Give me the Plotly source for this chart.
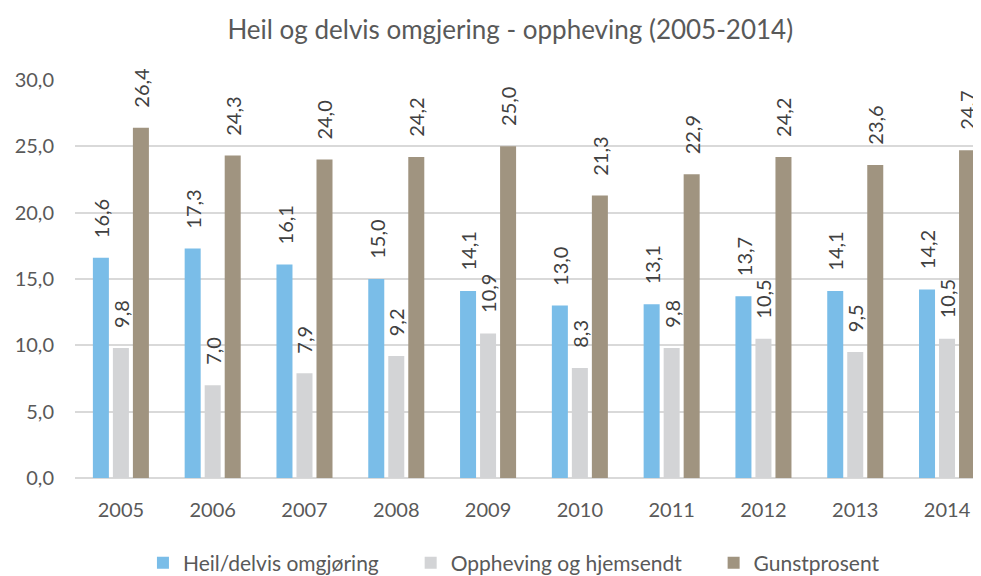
import plotly.graph_objects as go

years = ["2005", "2006", "2007", "2008", "2009", "2010", "2011", "2012", "2013", "2014"]
heil = [16.6, 17.3, 16.1, 15.0, 14.1, 13.0, 13.1, 13.7, 14.1, 14.2]
oppheving = [9.8, 7.0, 7.9, 9.2, 10.9, 8.3, 9.8, 10.5, 9.5, 10.5]
gunst = [26.4, 24.3, 24.0, 24.2, 25.0, 21.3, 22.9, 24.2, 23.6, 24.7]

series = [
    ("Heil/delvis omgjøring", heil, "#7abde8"),
    ("Oppheving og hjemsendt", oppheving, "#d3d4d6"),
    ("Gunstprosent", gunst, "#a09480"),
]

font = "Lato, 'Open Sans', sans-serif"
txt = "#595959"
pad = "\u00a0" * 5  # widen the gap between legend entries

fig = go.Figure()
annotations = []
for i, (name, vals, col) in enumerate(series):
    label = name + pad if i < 2 else name
    fig.add_trace(go.Bar(x=years, y=vals, name=label, marker_color=col,
                         marker_line_width=0, cliponaxis=False))
    # category axis: use the index so "2005" is not read as a position
    for k, v in enumerate(vals):
        annotations.append(dict(
            x=k, y=v, text=f"{v:.1f}".replace(".", ","), showarrow=False,
            textangle=-90, xanchor="center", yanchor="bottom",
            xshift=(i - 1) * 20, yshift=18,
            font=dict(family=font, size=20, color="#404040")))

# page body has an 8px margin, so the figure is pulled up/left by 8px
fig.update_layout(
    width=981, height=576,
    margin=dict(l=67, r=8, t=72, b=106, autoexpand=False),
    paper_bgcolor="white", plot_bgcolor="white",
    barmode="group", bargap=0.346, bargroupgap=0.2,
    separators=",.",
    font=dict(family=font, color=txt),
    title=dict(text="Heil og delvis omgjering - oppheving (2005-2014)",
               x=0.512, xanchor="center", y=0.962, yanchor="middle",
               font=dict(size=26, color=txt)),
    annotations=annotations,
    legend=dict(orientation="h", x=0.075, xanchor="left", y=-0.214,
                yanchor="middle", font=dict(size=21, color=txt)),
    showlegend=True,
)
fig.update_xaxes(type="category", range=[-0.5, 9.37], showgrid=False,
                 showline=False, ticks="", automargin=False,
                 tickfont=dict(size=20, color=txt), ticklabelstandoff=18)
fig.update_yaxes(range=[0, 30], dtick=5, tickformat=".1f", automargin=False,
                 gridcolor="#d9d9d9", gridwidth=1.5, zeroline=True,
                 zerolinecolor="#d9d9d9", zerolinewidth=1.5,
                 showline=False, ticks="",
                 tickfont=dict(size=20, color=txt), ticklabelstandoff=20)

fig.write_html("out.html")
